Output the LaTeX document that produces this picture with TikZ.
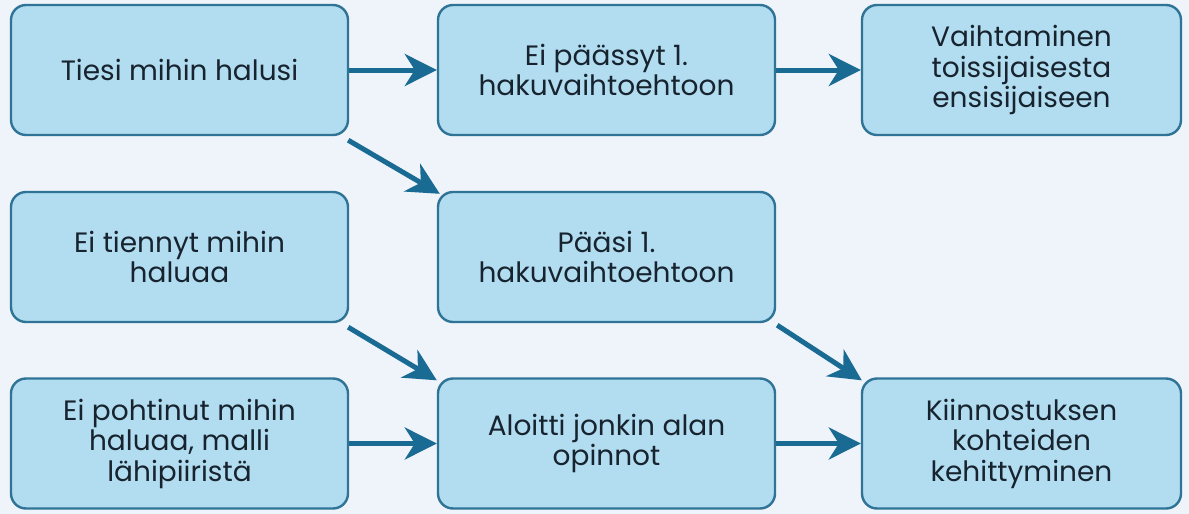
\documentclass[tikz,border=0pt]{standalone}
\usepackage{fontspec}
\setmainfont{Poppins}
\usetikzlibrary{arrows.meta}
\definecolor{bg}{HTML}{EEF4FA}
\definecolor{boxfill}{HTML}{B2DDF0}
\definecolor{boxline}{HTML}{2F7396}
\definecolor{arr}{HTML}{1A6B94}
\definecolor{txt}{HTML}{17232E}
\tikzset{
  flowbox/.style={draw=boxline, fill=boxfill, line width=2.4pt, rounded corners=15pt,
    minimum height=130pt, align=center, text=txt, inner sep=0pt,
    font=\fontsize{28}{30.5}\selectfont},
  wbox/.style={flowbox, minimum width=337pt},
  nbox/.style={flowbox, minimum width=319pt},
  flowarrow/.style={draw=arr, line width=5pt, -{Stealth[length=32pt, width=32pt, inset=10pt]}}
}
\begin{document}
\begin{tikzpicture}[x=1pt,y=-1pt]
\fill[bg] (0,0) rectangle (1189,514);
\useasboundingbox (0,0) rectangle (1189,514);
\node[wbox] (a) at (179.5,70) {Tiesi mihin halusi};
\node[wbox] (b) at (606.5,70) {Ei päässyt 1.\\hakuvaihtoehtoon};
\node[nbox] (c) at (1021.5,70) {Vaihtaminen\\toissijaisesta\\ensisijaiseen};
\node[wbox] (d) at (179.5,257) {Ei tiennyt mihin\\haluaa};
\node[wbox] (e) at (606.5,257) {Pääsi 1.\\hakuvaihtoehtoon};
\node[wbox] (f) at (179.5,443.5) {Ei pohtinut mihin\\haluaa, malli\\lähipiiristä};
\node[wbox] (g) at (606.5,443.5) {Aloitti jonkin alan\\opinnot};
\node[nbox] (h) at (1021.5,443.5) {Kiinnostuksen\\kohteiden\\kehittyminen};
\draw[flowarrow] (a.east) -- (b.west);
\draw[flowarrow] (b.east) -- (c.west);
\draw[flowarrow] ([shift={(-1pt,-4pt)}]a.south east) -- ([shift={(3pt,-3pt)}]e.north west);
\draw[flowarrow] ([shift={(-1pt,-4pt)}]d.south east) -- ([shift={(0pt,-3pt)}]g.north west);
\draw[flowarrow] ([shift={(1pt,-2pt)}]e.south east) -- ([shift={(1pt,-3pt)}]h.north west);
\draw[flowarrow] (f.east) -- (g.west);
\draw[flowarrow] (g.east) -- (h.west);
\end{tikzpicture}
\end{document}
